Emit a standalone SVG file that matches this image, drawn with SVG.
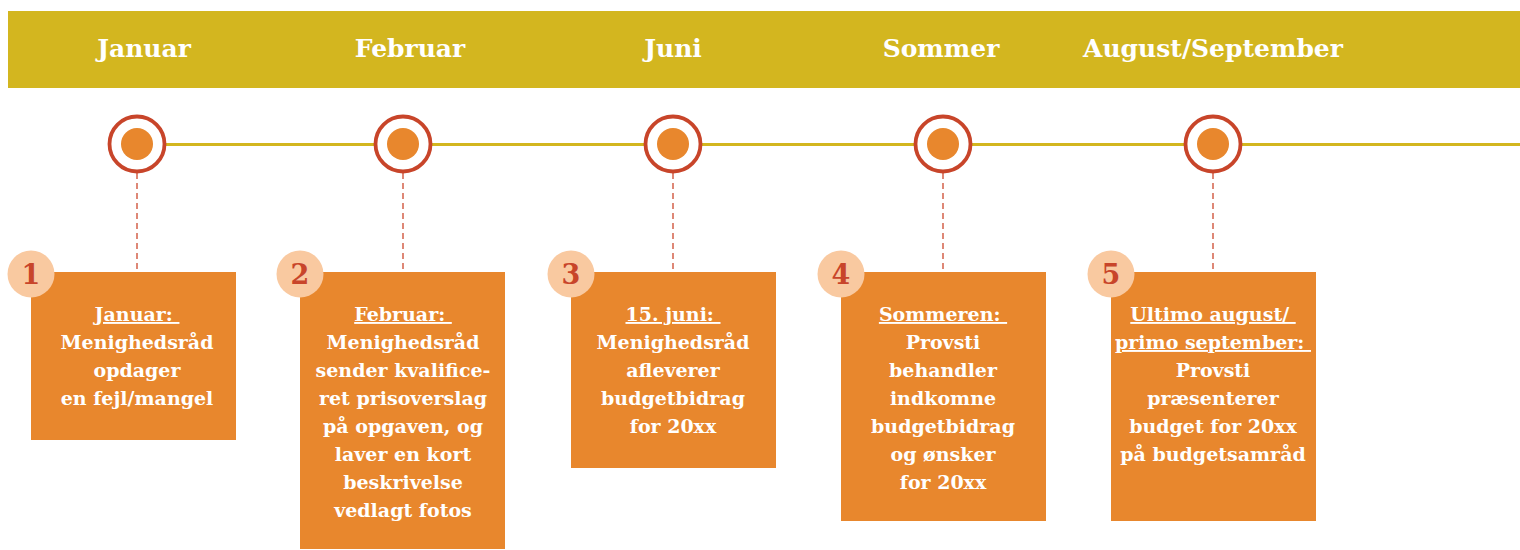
<svg xmlns="http://www.w3.org/2000/svg" width="1520" height="550" viewBox="0 0 1520 550">
<style>
.hdr{font-family:"DejaVu Serif","Liberation Serif",serif;font-weight:bold;font-size:25px;fill:#fff;text-anchor:middle}
.bt{font-family:"DejaVu Serif","Liberation Serif",serif;font-weight:bold;font-size:19px;fill:#fff;text-anchor:middle}
.ul{text-decoration:underline}
.box{fill:#E8872D}
.ring{fill:#fff;stroke:#C8452A;stroke-width:3.8}
.dot{fill:#E8872D}
.badge{fill:#F9C9A0}
.num{font-family:"DejaVu Serif","Liberation Serif",serif;font-weight:bold;font-size:27px;fill:#C8452A;text-anchor:middle}
.dash{stroke:#D66B55;stroke-width:1.6;stroke-dasharray:6 4;fill:none}
</style>
<rect x="8" y="11" width="1512" height="77" fill="#D3B61F"/>
<g id="headers">
<text class="hdr" x="144" y="57">Januar</text>
<text class="hdr" x="410" y="57">Februar</text>
<text class="hdr" x="673" y="57">Juni</text>
<text class="hdr" x="941" y="57">Sommer</text>
<text class="hdr" x="1213" y="57">August/September</text>
</g>
<g id="connectors">
<line x1="165" y1="144.5" x2="1520" y2="144.5" stroke="#D3B61F" stroke-width="3"/>
<line class="dash" x1="137" y1="173" x2="137" y2="272"/>
<line class="dash" x1="403" y1="173" x2="403" y2="272"/>
<line class="dash" x1="673" y1="173" x2="673" y2="272"/>
<line class="dash" x1="943" y1="173" x2="943" y2="272"/>
<line class="dash" x1="1213" y1="173" x2="1213" y2="272"/>
</g>
<g id="m1"><circle class="ring" cx="137" cy="144" r="27.5"/><circle class="dot" cx="137" cy="144" r="16"/></g>
<g id="m2"><circle class="ring" cx="403" cy="144" r="27.5"/><circle class="dot" cx="403" cy="144" r="16"/></g>
<g id="m3"><circle class="ring" cx="673" cy="144" r="27.5"/><circle class="dot" cx="673" cy="144" r="16"/></g>
<g id="m4"><circle class="ring" cx="943" cy="144" r="27.5"/><circle class="dot" cx="943" cy="144" r="16"/></g>
<g id="m5"><circle class="ring" cx="1213" cy="144" r="27.5"/><circle class="dot" cx="1213" cy="144" r="16"/></g>

<g id="step1">
<rect class="box" x="31" y="272" width="205" height="168"/>
<circle class="badge" cx="31" cy="274" r="23.5"/>
<text class="num" x="31" y="284">1</text>
<text class="bt" x="137" y="321"><tspan class="ul">Januar:&#160;</tspan></text>
<text class="bt" x="137" y="349">Menighedsråd</text>
<text class="bt" x="137" y="377">opdager</text>
<text class="bt" x="137" y="405">en fejl/mangel</text>
</g>
<g id="step2">
<rect class="box" x="300" y="272" width="205" height="277"/>
<circle class="badge" cx="300" cy="274" r="23.5"/>
<text class="num" x="300" y="284">2</text>
<text class="bt" x="403" y="321"><tspan class="ul">Februar:&#160;</tspan></text>
<text class="bt" x="403" y="349">Menighedsråd</text>
<text class="bt" x="403" y="377">sender kvalifice-</text>
<text class="bt" x="403" y="405">ret prisoverslag</text>
<text class="bt" x="403" y="433">på opgaven, og</text>
<text class="bt" x="403" y="461">laver en kort</text>
<text class="bt" x="403" y="489">beskrivelse</text>
<text class="bt" x="403" y="517">vedlagt fotos</text>
</g>
<g id="step3">
<rect class="box" x="571" y="272" width="205" height="196"/>
<circle class="badge" cx="571" cy="274" r="23.5"/>
<text class="num" x="571" y="284">3</text>
<text class="bt" x="673" y="321"><tspan class="ul">15. juni:&#160;</tspan></text>
<text class="bt" x="673" y="349">Menighedsråd</text>
<text class="bt" x="673" y="377">afleverer</text>
<text class="bt" x="673" y="405">budgetbidrag</text>
<text class="bt" x="673" y="433">for 20xx</text>
</g>
<g id="step4">
<rect class="box" x="841" y="272" width="205" height="249"/>
<circle class="badge" cx="841" cy="274" r="23.5"/>
<text class="num" x="841" y="284">4</text>
<text class="bt" x="943" y="321"><tspan class="ul">Sommeren:&#160;</tspan></text>
<text class="bt" x="943" y="349">Provsti</text>
<text class="bt" x="943" y="377">behandler</text>
<text class="bt" x="943" y="405">indkomne</text>
<text class="bt" x="943" y="433">budgetbidrag</text>
<text class="bt" x="943" y="461">og ønsker</text>
<text class="bt" x="943" y="489">for 20xx</text>
</g>
<g id="step5">
<rect class="box" x="1111" y="272" width="205" height="249"/>
<circle class="badge" cx="1111" cy="274" r="23.5"/>
<text class="num" x="1111" y="284">5</text>
<text class="bt" x="1213" y="321"><tspan class="ul">Ultimo august/&#160;</tspan></text>
<text class="bt" x="1213" y="349"><tspan class="ul">primo september:&#160;</tspan></text>
<text class="bt" x="1213" y="377">Provsti</text>
<text class="bt" x="1213" y="405">præsenterer</text>
<text class="bt" x="1213" y="433">budget for 20xx</text>
<text class="bt" x="1213" y="461">på budgetsamråd</text>
</g>
</svg>
